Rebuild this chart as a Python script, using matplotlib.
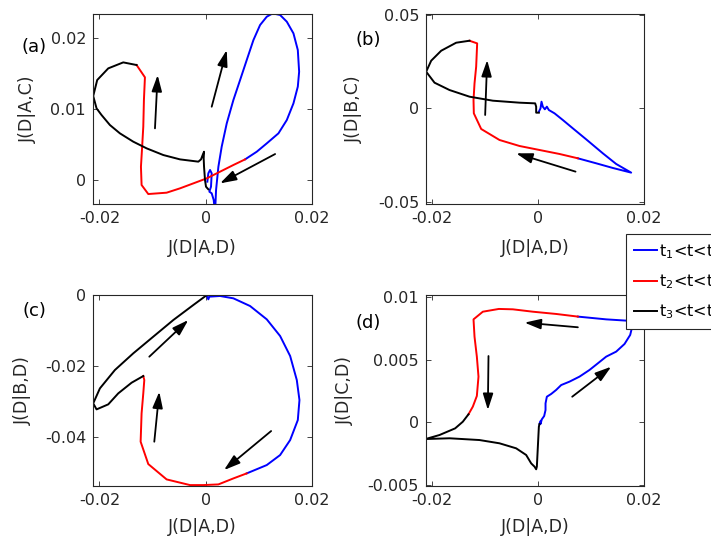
import numpy as np
import matplotlib
matplotlib.use("Agg")
import matplotlib.pyplot as plt
from matplotlib.lines import Line2D

plt.rcParams['font.family'] = ['DejaVu Sans']
plt.rcParams['axes.unicode_minus'] = False

S = 1e-3  # values below are in units of 1e-3

# ---------------- panel (a): J(D|A,D) vs J(D|A,C) ----------------
a_blue_x = [0.31, 0.50, 0.82, 1.13, 1.00, 0.69, 1.13, 1.51, 1.76, 1.95, 2.39, 3.01, 3.96, 5.21, 6.47, 7.72, 8.98,
            10.23, 11.49, 12.62, 14.00, 15.26, 16.51, 17.33, 17.58, 17.33, 16.51, 15.26, 13.69, 11.49, 9.61, 7.41]
a_blue_y = [-0.23, 0.94, 1.41, 0.94, -0.94, -1.64, -1.87, -2.81, -4.68, -1.41, 1.87, 4.68, 7.96, 11.24, 14.05, 16.86,
            19.67, 21.78, 22.95, 23.42, 23.19, 22.25, 20.61, 18.27, 15.22, 13.12, 10.77, 8.43, 6.56, 5.15, 3.98, 2.90]
a_red_x = [7.41, 5.21, 2.70, 0.19, -2.32, -4.83, -7.35, -10.80, -12.06, -12.18, -11.99, -11.74, -11.62, -11.43, -13.00]
a_red_y = [2.90, 2.11, 1.17, 0.23, -0.47, -1.17, -1.78, -1.97, -0.70, 1.87, 4.22, 7.49, 11.24, 14.43, 16.16]
a_black_x = [-13.00, -15.51, -18.33, -20.41, -21.16, -20.53, -19.59, -18.02, -16.14, -13.63, -11.11, -7.97, -4.83,
             -1.38, -0.88, -0.57, -0.31, -0.38, -0.31, -0.13, 0.06, 0.50]
a_black_y = [16.16, 16.53, 15.69, 14.05, 11.80, 10.07, 9.13, 7.73, 6.56, 5.39, 4.45, 3.51, 2.90, 2.58, 2.90, 3.51,
             3.98, 3.04, 1.87, 0.0, -0.94, -1.31]
a_arrows = [((-9.54, 7.26), (-9.04, 14.75)), ((1.13, 10.30), (3.96, 18.27)), ((13.06, 3.65), (2.70, -0.47))]

# ---------------- panel (b): J(D|A,D) vs J(D|B,C) ----------------
b_blue_x = [0.13, 0.44, 0.63, 0.88, 1.26, 1.64, 2.02, 3.09, 4.66, 6.55, 9.07, 12.22, 14.74, 17.58, 14.11, 10.96, 7.50]
b_blue_y = [-1.78, 0.0, 3.55, 0.89, -0.53, 0.89, -0.89, -2.66, -6.22, -10.66, -16.52, -23.98, -29.66, -34.28,
            -31.79, -29.30, -26.64]
b_red_x = [7.50, 4.03, 0.25, -3.53, -7.31, -10.77, -12.16, -12.22, -12.03, -11.72, -11.53, -12.98]
b_red_y = [-26.64, -24.33, -22.20, -20.07, -16.87, -11.01, -2.66, 4.44, 13.32, 22.20, 34.63, 36.05]
b_black_x = [-12.98, -15.50, -18.33, -20.22, -21.17, -19.59, -16.76, -12.98, -8.57, -3.53, -0.57, -0.38, -0.38, 0.13]
b_black_y = [36.05, 34.99, 30.72, 25.40, 19.54, 13.68, 9.77, 6.22, 4.08, 3.02, 2.66, 0.89, -2.31, -2.31]
b_arrows = [((-10.02, -3.55), (-9.64, 25.75)), ((7.06, -33.74), (-4.16, -23.98))]

# ---------------- panel (c): J(D|A,D) vs J(D|B,D) ----------------
c_blue_x = [0.19, 0.50, 0.69, 2.70, 5.21, 8.35, 11.49, 14.00, 15.89, 17.14, 17.64, 17.33, 15.89, 14.00, 11.49, 7.72]
c_blue_y = [0.0, -1.22, -0.47, -0.28, -0.94, -3.11, -6.87, -11.57, -17.22, -24.00, -29.64, -35.29, -40.93, -45.17,
            -47.99, -50.34]
c_red_x = [7.72, 5.21, 2.39, -0.44, -2.95, -7.35, -10.80, -12.24, -12.06, -11.74, -11.55, -11.74]
c_red_y = [-50.34, -51.76, -53.45, -53.64, -53.64, -52.04, -47.71, -41.40, -33.41, -27.76, -24.00, -22.87]
c_black_x = [-11.74, -13.94, -16.45, -18.33, -20.53, -21.16, -19.90, -17.08, -13.63, -9.86, -6.09, -2.32, 0.06]
c_black_y = [-22.87, -24.75, -27.76, -30.86, -32.28, -30.58, -26.35, -21.17, -16.47, -11.76, -7.06, -2.82, -0.19]
c_arrows = [((-10.61, -17.41), (-3.27, -7.06)), ((-9.67, -41.40), (-8.73, -27.29)), ((12.31, -38.39), (3.45, -49.40))]

# ---------------- panel (d): J(D|A,D) vs J(D|C,D) ----------------
d_blue_x = [0.25, 0.50, 0.44, 0.69, 1.13, 1.39, 1.39, 1.64, 2.46, 3.40, 4.35, 5.92, 7.81, 9.70, 11.28, 12.85, 14.74,
            16.32, 17.39, 17.77, 17.58, 16.63, 12.85, 7.50]
d_blue_y = [-0.13, 0.13, -0.13, 0.24, 0.50, 0.98, 1.51, 2.04, 2.26, 2.58, 2.97, 3.24, 3.64, 4.17, 4.70, 5.23, 5.63,
            6.24, 6.96, 7.62, 8.02, 8.10, 8.20, 8.42]
d_red_x = [7.50, 3.40, -1.01, -4.79, -7.43, -10.46, -12.22, -12.03, -11.59, -11.28, -11.59, -12.35, -13.17]
d_red_y = [8.42, 8.63, 8.81, 9.00, 9.03, 8.81, 8.20, 6.82, 5.23, 3.64, 2.10, 1.25, 0.64]
d_black_x = [-13.17, -14.24, -15.69, -18.65, -21.29, -16.76, -11.09, -7.31, -4.16, -2.27, -1.32, -0.69, -0.38,
             -0.25, 0.13, 0.25]
d_black_y = [0.64, 0.05, -0.48, -1.01, -1.33, -1.27, -1.41, -1.67, -2.07, -2.60, -3.27, -3.53, -3.74, -3.53,
             -0.35, -0.13]
d_arrows = [((7.50, 7.57), (-2.58, 7.94)), ((-9.39, 5.28), (-9.51, 0.98)), ((6.43, 2.04), (13.80, 4.43))]

# ---------------- axes settings ----------------
x_label = "J(D|A,D)"
y_labels = ["J(D|A,C)", "J(D|B,C)", "J(D|B,D)", "J(D|C,D)"]
panel_tags = ["(a)", "(b)", "(c)", "(d)"]
x_ticks = [-0.02, 0, 0.02]
x_ticklabels = ["-0.02", "0", "0.02"]
y_ticks = [[0, 0.01, 0.02], [-0.05, 0, 0.05], [-0.04, -0.02, 0], [-0.005, 0, 0.005, 0.01]]
y_ticklabels = [["0", "0.01", "0.02"], ["-0.05", "0", "0.05"], ["-0.04", "-0.02", "0"],
                ["-0.005", "0", "0.005", "0.01"]]
y_lims = [(-0.00337, 0.02333), (-0.0510, 0.0503), (-0.0539, 0.0), (-0.00507, 0.01014)]
x_lim = (-0.0212, 0.02)
legend_labels = ["t$_\\mathregular{1}$<t<t$_\\mathregular{2}$",
                 "t$_\\mathregular{2}$<t<t$_\\mathregular{3}$",
                 "t$_\\mathregular{3}$<t<t$_\\mathregular{4}$"]
colors = ["#0000ff", "#ff0000", "#000000"]

panels = [
    (a_blue_x, a_blue_y, a_red_x, a_red_y, a_black_x, a_black_y, a_arrows),
    (b_blue_x, b_blue_y, b_red_x, b_red_y, b_black_x, b_black_y, b_arrows),
    (c_blue_x, c_blue_y, c_red_x, c_red_y, c_black_x, c_black_y, c_arrows),
    (d_blue_x, d_blue_y, d_red_x, d_red_y, d_black_x, d_black_y, d_arrows),
]

W, H = 711, 548
fig = plt.figure(figsize=(W / 100, H / 100), dpi=100)
rects = [
    [93 / W, 1 - 204 / H, 219 / W, 190 / H],
    [426 / W, 1 - 204 / H, 218 / W, 190 / H],
    [93 / W, 1 - 486 / H, 219 / W, 191 / H],
    [426 / W, 1 - 486 / H, 218 / W, 191 / H],
]
ylabel_x = [-0.256, -0.289, -0.279, -0.33]
xlabel_y = [-0.185, -0.185, -0.17, -0.17]
tag_pos = [(34, 47), (368, 40), (34, 311), (368, 323)]
text_color = "#262626"
fs = 11.5

for i, (bx, by, rx, ry, kx, ky, arrows) in enumerate(panels):
    ax = fig.add_axes(rects[i])
    ax.plot(np.array(bx) * S, np.array(by) * S, color=colors[0], lw=1.4, solid_joinstyle='round')
    ax.plot(np.array(rx) * S, np.array(ry) * S, color=colors[1], lw=1.4, solid_joinstyle='round')
    ax.plot(np.array(kx) * S, np.array(ky) * S, color=colors[2], lw=1.4, solid_joinstyle='round')
    for tail, head in arrows:
        ax.annotate("", xy=(head[0] * S, head[1] * S), xytext=(tail[0] * S, tail[1] * S),
                    arrowprops=dict(arrowstyle='-|>,head_length=0.7,head_width=0.22', color='k', lw=1.3,
                                    shrinkA=0, shrinkB=0, mutation_scale=14))
    ax.set_xlim(*x_lim)
    ax.set_ylim(*y_lims[i])
    ax.set_xticks(x_ticks)
    ax.set_xticklabels(x_ticklabels)
    ax.set_yticks(y_ticks[i])
    ax.set_yticklabels(y_ticklabels[i])
    ax.tick_params(direction='in', top=True, right=True, length=3.5, width=0.6, labelsize=fs,
                   colors=text_color, pad=5)
    for sp in ax.spines.values():
        sp.set_linewidth(0.8)
        sp.set_color(text_color)
    ax.set_xlabel(x_label, fontsize=12.5, color=text_color)
    ax.xaxis.set_label_coords(0.5, xlabel_y[i])
    ax.set_ylabel(y_labels[i], fontsize=12.5, color=text_color)
    ax.yaxis.set_label_coords(ylabel_x[i], 0.5)
    fig.text(tag_pos[i][0] / W, 1 - tag_pos[i][1] / H, panel_tags[i], fontsize=13, ha='center', va='center',
             color='k')

handles = [Line2D([], [], color=c, lw=1.4) for c in colors]
leg = fig.legend(handles, legend_labels, loc='upper left', bbox_to_anchor=(626 / W, 1 - 234 / H),
                 frameon=True, fancybox=False, edgecolor='#262626', framealpha=1, fontsize=fs,
                 borderaxespad=0, borderpad=0.5, handlelength=1.45,
                 handletextpad=0.1, labelspacing=0.72)
leg.get_frame().set_linewidth(0.8)

fig.savefig("out.png", dpi=100)
